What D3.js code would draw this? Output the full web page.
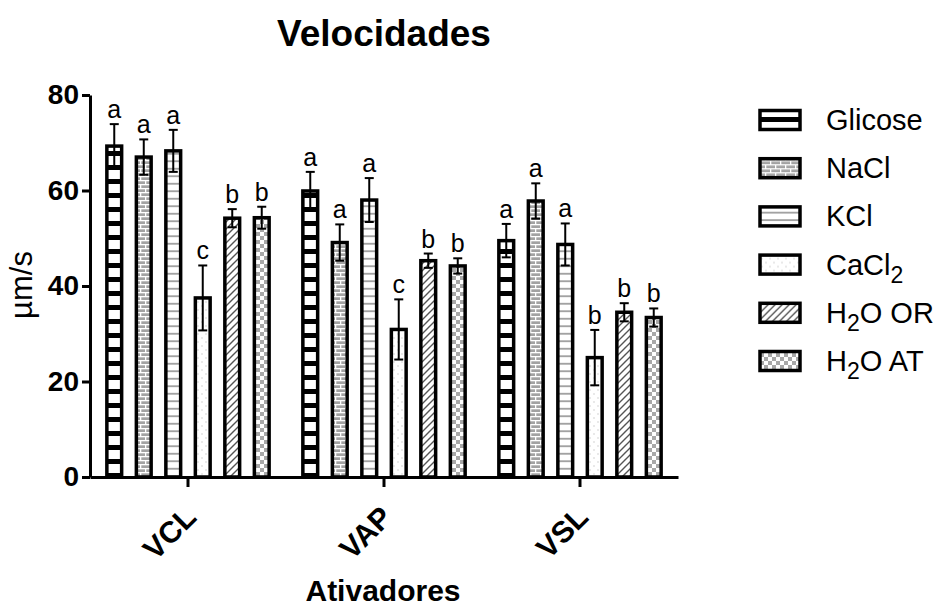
<!DOCTYPE html>
<html lang="pt">
<head>
  <meta charset="UTF-8">
  <title>Velocidades</title>
  <script src="https://d3js.org/d3.v7.min.js"></script>
  <style>
    body { margin: 0; background: #fff; }
    svg { display: block; font-family: "Liberation Sans", Arial, sans-serif; }
    .axis path, .axis line { stroke: #000; stroke-width: 3px; }
    .axis text { font-size: 28px; font-weight: bold; fill: #000; }
  </style>
</head>
<body>
  <svg width="942" height="609"></svg>

  <script>
    // chart data
    const groups = ['VCL', 'VAP', 'VSL'];
    const series = ['Glicose', 'NaCl', 'KCl', 'CaCl2', 'H2O OR', 'H2O AT'];
    const vclMean = [69.3, 67.0, 68.3, 37.5, 54.2, 54.3];
    const vclSd   = [4.6, 3.7, 4.4, 6.8, 1.9, 2.3];
    const vapMean = [59.9, 49.1, 58.0, 30.9, 45.3, 44.2];
    const vapSd   = [4.0, 3.8, 4.6, 6.3, 1.5, 1.6];
    const vslMean = [49.5, 57.8, 48.7, 25.0, 34.5, 33.4];
    const vslSd   = [3.5, 3.7, 4.4, 5.8, 1.9, 1.9];
    const vclLetters = ['a', 'a', 'a', 'c', 'b', 'b'];
    const vapLetters = ['a', 'a', 'a', 'c', 'b', 'b'];
    const vslLetters = ['a', 'a', 'a', 'b', 'b', 'b'];
    const yTicks = [0, 20, 40, 60, 80];

    const means = [vclMean, vapMean, vslMean];
    const sds = [vclSd, vapSd, vslSd];
    const letters = [vclLetters, vapLetters, vslLetters];

    const rows = [];
    groups.forEach((g, gi) => {
      series.forEach((s, si) => {
        rows.push({ group: g, serie: s, idx: si, mean: means[gi][si], sd: sds[gi][si], letter: letters[gi][si] });
      });
    });

    const svg = d3.select('svg');
    const sw = 3.5; // bar outline

    // patterns
    const defs = svg.append('defs');
    const pat = (id, w, h) => defs.append('pattern')
      .attr('id', id).attr('patternUnits', 'userSpaceOnUse')
      .attr('width', w).attr('height', h);

    let p = pat('p0', 20, 14);
    p.append('rect').attr('width', 20).attr('height', 14).attr('fill', '#000');
    p.append('rect').attr('y', 2).attr('width', 20).attr('height', 9).attr('fill', '#fff');

    p = pat('p1', 10, 8);
    p.append('rect').attr('width', 10).attr('height', 8).attr('fill', '#a2a2a2');
    p.append('rect').attr('width', 10).attr('height', 1.3).attr('fill', '#fff');
    p.append('rect').attr('y', 4).attr('width', 10).attr('height', 1.3).attr('fill', '#fff');
    p.append('rect').attr('x', 0).attr('width', 1.3).attr('height', 4).attr('fill', '#fff');
    p.append('rect').attr('x', 5).attr('y', 4).attr('width', 1.3).attr('height', 4).attr('fill', '#fff');

    p = pat('p2', 10, 7.5);
    p.append('rect').attr('width', 10).attr('height', 7.5).attr('fill', '#fff');
    p.append('rect').attr('y', 3).attr('width', 10).attr('height', 1.5).attr('fill', '#8c8c8c');

    p = pat('p3', 8, 8);
    p.append('rect').attr('width', 8).attr('height', 8).attr('fill', '#fff');
    p.append('circle').attr('cx', 2).attr('cy', 2).attr('r', 0.7).attr('fill', '#c4c4c4');
    p.append('circle').attr('cx', 6).attr('cy', 6).attr('r', 0.7).attr('fill', '#c4c4c4');

    p = pat('p4', 7, 7);
    p.append('rect').attr('width', 7).attr('height', 7).attr('fill', '#fff');
    p.append('path').attr('d', 'M-1,1 L1,-1 M0,7 L7,0 M6,8 L8,6')
      .attr('stroke', '#555').attr('stroke-width', 1.4);

    p = pat('p5', 8, 8);
    p.append('rect').attr('width', 8).attr('height', 8).attr('fill', '#fff');
    p.append('rect').attr('width', 4).attr('height', 4).attr('fill', '#a8a8a8');
    p.append('rect').attr('x', 4).attr('y', 4).attr('width', 4).attr('height', 4).attr('fill', '#a8a8a8');

    const fill = i => `url(#p${i})`;

    // scales
    const y = d3.scaleLinear().domain([0, 80]).range([477, 95]);
    const x0 = d3.scaleBand().domain(groups).range([90, 678])
      .paddingInner(0.097).paddingOuter(0.0485);
    const x1 = d3.scaleBand().domain(series).range([0, x0.bandwidth()])
      .paddingInner(0.38).paddingOuter(0.19);

    // bars
    const bars = svg.append('g');
    bars.selectAll('rect').data(rows).join('rect')
      .attr('x', d => x0(d.group) + x1(d.serie) + sw / 2)
      .attr('y', d => y(d.mean))
      .attr('width', x1.bandwidth() - sw)
      .attr('height', d => y(0) - y(d.mean))
      .attr('fill', d => fill(d.idx))
      .attr('stroke', '#000')
      .attr('stroke-width', sw);

    // error bars
    const cx = d => x0(d.group) + x1(d.serie) + x1.bandwidth() / 2;
    const err = svg.append('g').attr('stroke', '#000').attr('stroke-width', 2);
    err.selectAll('.v').data(rows).join('line')
      .attr('x1', cx).attr('x2', cx)
      .attr('y1', d => y(d.mean - d.sd)).attr('y2', d => y(d.mean + d.sd));
    err.selectAll('.t').data(rows).join('line')
      .attr('x1', d => cx(d) - 4.5).attr('x2', d => cx(d) + 4.5)
      .attr('y1', d => y(d.mean + d.sd)).attr('y2', d => y(d.mean + d.sd));
    err.selectAll('.b').data(rows).join('line')
      .attr('x1', d => cx(d) - 4.5).attr('x2', d => cx(d) + 4.5)
      .attr('y1', d => y(d.mean - d.sd)).attr('y2', d => y(d.mean - d.sd));

    // significance letters
    svg.append('g').selectAll('text').data(rows).join('text')
      .attr('x', cx)
      .attr('y', d => y(d.mean + d.sd) - 6)
      .attr('text-anchor', 'middle')
      .attr('font-size', 25)
      .text(d => d.letter);

    // axes
    svg.append('g').attr('class', 'axis')
      .attr('transform', 'translate(90,0)')
      .call(d3.axisLeft(y).tickValues(yTicks).tickSize(8).tickSizeOuter(0).tickPadding(3));

    const xAxis = svg.append('g').attr('class', 'axis')
      .attr('transform', `translate(0,${y(0)})`)
      .call(d3.axisBottom(x0).tickSize(10).tickSizeOuter(0));
    xAxis.selectAll('text')
      .attr('text-anchor', 'end')
      .attr('dy', 0)
      .attr('y', 0)
      .style('font-size', '30px')
      .attr('transform', 'translate(10,42) rotate(-45)');

    // titles
    svg.append('text')
      .attr('x', 384).attr('y', 46)
      .attr('text-anchor', 'middle')
      .attr('font-size', 37).attr('font-weight', 'bold')
      .text('Velocidades');

    svg.append('text')
      .attr('x', 383).attr('y', 601)
      .attr('text-anchor', 'middle')
      .attr('font-size', 30).attr('font-weight', 'bold')
      .text('Ativadores');

    svg.append('text')
      .attr('transform', 'translate(32,285) rotate(-90)')
      .attr('text-anchor', 'middle')
      .attr('font-size', 31)
      .text('\u00b5m/s');

    // legend
    const legend = svg.append('g');
    series.forEach((s, i) => {
      const g = legend.append('g').attr('transform', `translate(760,${120 + i * 48.2})`);
      g.append('rect')
        .attr('x', 0).attr('y', -9.5)
        .attr('width', 40).attr('height', 19)
        .attr('fill', fill(i))
        .attr('stroke', '#000').attr('stroke-width', sw);
      const t = g.append('text').attr('x', 66).attr('y', 10).attr('font-size', 29);
      let shifted = false;
      s.split(/(2)/).filter(part => part !== '').forEach(part => {
        if (part === '2') {
          t.append('tspan').attr('dy', 8).attr('font-size', 23).text('2');
          shifted = true;
        } else {
          t.append('tspan').attr('dy', shifted ? -8 : null).text(part);
          shifted = false;
        }
      });
    });
  </script>
</body>
</html>
